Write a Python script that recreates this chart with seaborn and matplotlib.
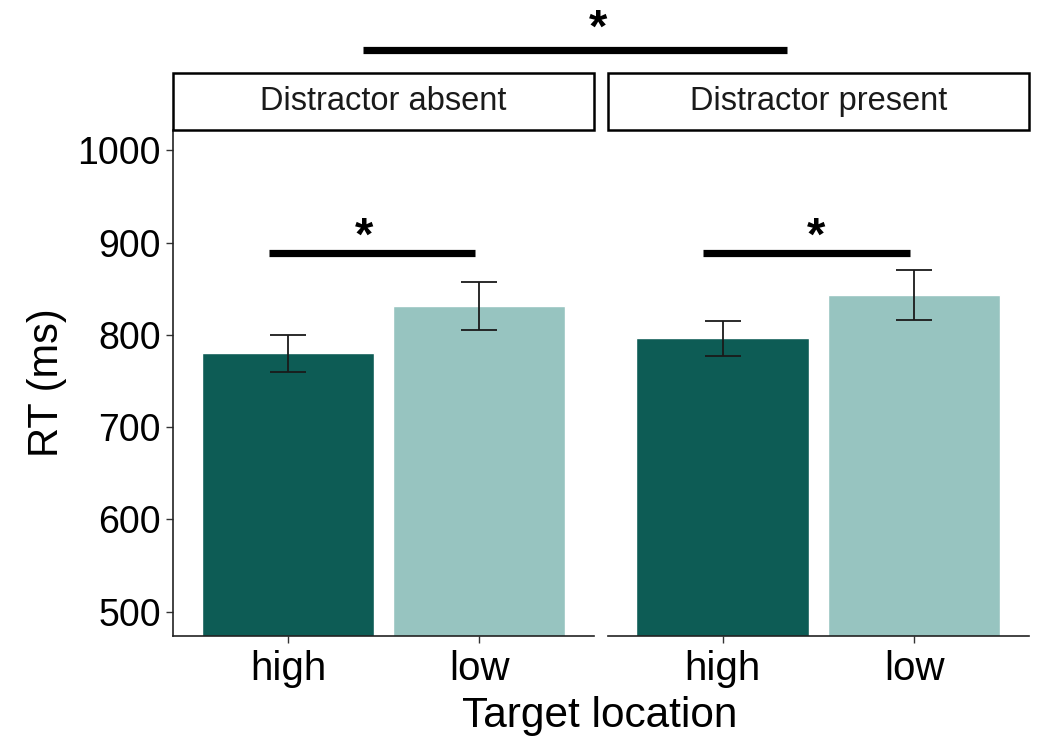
import matplotlib
matplotlib.use("Agg")
import matplotlib.pyplot as plt
import seaborn as sns
import pandas as pd
from matplotlib.patches import Rectangle
from matplotlib.lines import Line2D

# ---- data ----
panels = ["Distractor absent", "Distractor present"]
locations = ["high", "low"]
rt_absent = [780, 831]
rt_present = [796, 843]
err_absent = [20, 26]
err_present = [19, 27]
colors = ["#0D5C55", "#97C4C0"]
yticks = [500, 600, 700, 800, 900, 1000]

sns.set_theme(style="white")
plt.rcParams['font.family'] = ['Liberation Sans', 'DejaVu Sans']

W, H = 1040, 738
fig = plt.figure(figsize=(W / 100, H / 100), dpi=100)

def fx(px):
    return px / W

def fy(py):
    return 1 - py / H

top_px, bot_px = 130, 636
strip_top_px = 72.7
panel_x = [(173.3, 594.0), (607.7, 1029.0)]

means = [rt_absent, rt_present]
errs = [err_absent, err_present]
star_x = [0.40, 0.49]

axes = []
for i, (x0, x1) in enumerate(panel_x):
    ax = fig.add_axes([fx(x0), fy(bot_px), (x1 - x0) / W, (bot_px - top_px) / H])
    df = pd.DataFrame({"location": locations, "rt": means[i]})
    sns.barplot(data=df, x="location", y="rt", hue="location", order=locations,
                hue_order=locations, palette=colors, width=0.9, legend=False,
                saturation=1, ax=ax, errorbar=None)
    ax.errorbar(range(len(locations)), means[i], yerr=errs[i], fmt="none",
                ecolor="#1a1a1a", elinewidth=1.3, capsize=13, capthick=1.3, zorder=5)
    ax.set_xlim(-0.6, 1.6)
    ax.set_ylim(473.5, 1022)
    ax.set_xlabel("")
    ax.set_ylabel("")
    for s in ["top", "right"]:
        ax.spines[s].set_visible(False)
    ax.spines["bottom"].set_color("#222222")
    ax.spines["bottom"].set_linewidth(1.2)
    ax.tick_params(axis="x", length=5, width=1.0, color="#333333",
                   labelsize=29, labelcolor="black", pad=5, bottom=True)
    if i == 0:
        ax.spines["left"].set_color("#222222")
        ax.spines["left"].set_linewidth(1.2)
        ax.set_yticks(yticks)
        ax.tick_params(axis="y", length=5, width=1.0, color="#333333",
                       labelsize=27, labelcolor="black", pad=4, left=True)
    else:
        ax.spines["left"].set_visible(False)
        ax.set_yticks([])
    # strip
    h_ax = (top_px - strip_top_px) / (bot_px - top_px)
    rect = Rectangle((0, 1), 1, h_ax, transform=ax.transAxes, facecolor="white",
                     edgecolor="black", linewidth=1.8, clip_on=False, zorder=10)
    ax.add_patch(rect)
    ax.text(0.5, 1 + h_ax / 2, panels[i], transform=ax.transAxes, ha="center",
            va="center", fontsize=23.5, color="#1a1a1a", zorder=11)
    # significance bar inside panel
    ax.plot([-0.1, 0.98], [888.8, 888.8], color="black", linewidth=5.2,
            solid_capstyle="butt", zorder=6)
    ax.text(star_x[i], 905, "*", ha="center", va="center", fontsize=34,
            fontweight="bold", color="black", zorder=6)
    axes.append(ax)

# top significance line across panels
fig.add_artist(Line2D([fx(362.7), fx(786.7)], [fy(49.7), fy(49.7)], color="black",
                      linewidth=5.2, solid_capstyle="butt"))
fig.text(fx(598), fy(30), "*", ha="center", va="center", fontsize=34,
         fontweight="bold", color="black")

fig.text(fx(47), fy(383), "RT (ms)", rotation=90, ha="center", va="center",
         fontsize=30, color="black")
fig.text(fx(600), fy(716), "Target location", ha="center", va="center",
         fontsize=30.5, color="black")

fig.savefig("out.png", dpi=100, facecolor="white")
